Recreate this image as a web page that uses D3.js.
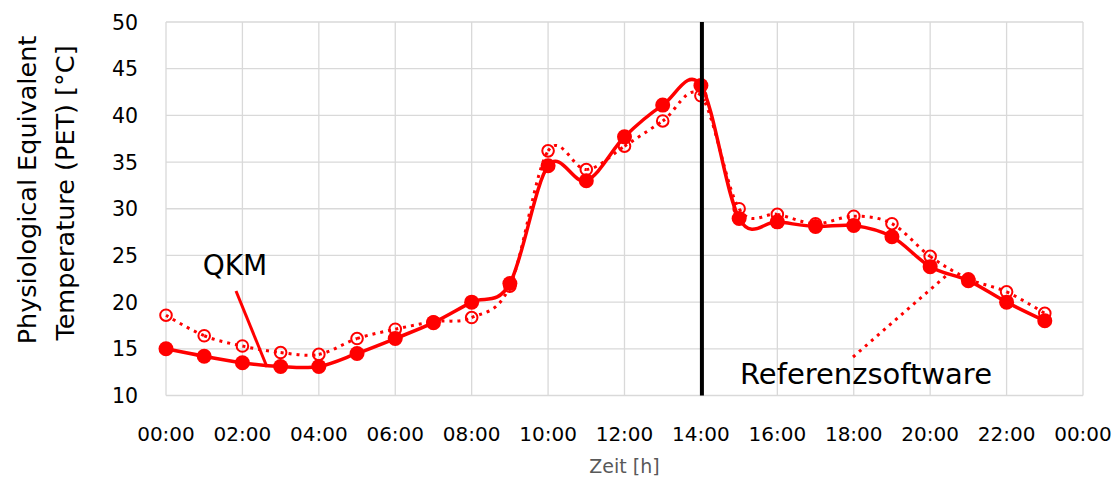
<!DOCTYPE html>
<html>
<head>
<meta charset="utf-8">
<script src="https://cdn.jsdelivr.net/npm/d3@7"></script>
<style>
  body { margin: 0; background: #fff; }
  svg { display: block; }
</style>
</head>
<body>
<svg id="chart" width="1117" height="483"></svg>
<script>
// Hour of day for each measurement
const hours = [0, 1, 2, 3, 4, 5, 6, 7, 8, 9, 10, 11, 12, 13, 14, 15, 16, 17, 18, 19, 20, 21, 22, 23];
// PET computed with QKM (solid line)
const qkm = [15.0, 14.2, 13.5, 13.1, 13.1, 14.5, 16.1, 17.8, 20.0, 22.0, 34.6, 33.0, 37.7, 41.1, 43.2,
             28.95, 28.6, 28.1, 28.2, 27.0, 23.8, 22.3, 20.0, 18.0];
// PET computed with the reference software (dotted line)
const referenz = [18.6, 16.4, 15.3, 14.6, 14.4, 16.1, 17.1, 17.9, 18.35, 21.7, 36.2, 34.2, 36.7, 39.4, 42.1,
                  30.0, 29.4, 28.4, 29.2, 28.4, 24.9, 22.5, 21.1, 18.8];
const yTicks = [10, 15, 20, 25, 30, 35, 40, 45, 50];
const xTickHours = [0, 2, 4, 6, 8, 10, 12, 14, 16, 18, 20, 22, 24];
const xTickLabels = ["00:00", "02:00", "04:00", "06:00", "08:00", "10:00", "12:00",
                     "14:00", "16:00", "18:00", "20:00", "22:00", "00:00"];
const markerHour = 14;

const svg = d3.select("#chart");
const font = "'DejaVu Sans', sans-serif";
const red = "#ff0000";
const grid = "#d9d9d9";

const x = d3.scaleLinear().domain([0, 24]).range([166, 1083]);
const y = d3.scaleLinear().domain([10, 50]).range([395.5, 22]);

// Gridlines
const g = svg.append("g");
g.selectAll("line.h").data(yTicks).join("line")
  .attr("x1", x(0)).attr("x2", x(24))
  .attr("y1", d => y(d)).attr("y2", d => y(d))
  .attr("stroke", grid).attr("stroke-width", 1.3);
g.selectAll("line.v").data(xTickHours).join("line")
  .attr("y1", y(10)).attr("y2", y(50))
  .attr("x1", d => x(d)).attr("x2", d => x(d))
  .attr("stroke", grid).attr("stroke-width", 1.3);

// Tick labels
svg.append("g").selectAll("text").data(yTicks).join("text")
  .attr("x", 138).attr("y", d => y(d) + 7.5)
  .attr("text-anchor", "end")
  .attr("font-family", font).attr("font-size", 20.5).attr("fill", "#000")
  .text(d => d);
svg.append("g").selectAll("text").data(xTickHours).join("text")
  .attr("x", d => x(d)).attr("y", 441)
  .attr("text-anchor", "middle")
  .attr("font-family", font).attr("font-size", 20).attr("fill", "#000")
  .text((d, i) => xTickLabels[i]);

// Axis titles
svg.append("text")
  .attr("transform", "translate(36,190) rotate(-90)")
  .attr("text-anchor", "middle")
  .attr("font-family", font).attr("font-size", 25.5).attr("fill", "#000")
  .text("Physiological Equivalent");
svg.append("text")
  .attr("transform", "translate(74,193) rotate(-90)")
  .attr("text-anchor", "middle")
  .attr("font-family", font).attr("font-size", 25.5).attr("fill", "#000")
  .text("Temperature (PET) [°C]");
svg.append("text")
  .attr("x", (x(0) + x(24)) / 2).attr("y", 473)
  .attr("text-anchor", "middle")
  .attr("font-family", font).attr("font-size", 19).attr("fill", "#595959")
  .text("Zeit [h]");

// Cardinal (tension 0) Bezier pieces, one per interval, so the dash pattern restarts at each point
function cardinalPieces(xs, ys) {
  const pts = xs.map((h, i) => [x(h), y(ys[i])]);
  const n = pts.length, k = 1 / 6, out = [];
  for (let i = 0; i < n - 1; i++) {
    const p0 = i === 0 ? pts[1] : pts[i - 1];
    const p1 = pts[i], p2 = pts[i + 1];
    const p3 = i + 2 < n ? pts[i + 2] : pts[n - 2];
    const c1 = i === 0 ? p1 : [p1[0] + k * (p2[0] - p0[0]), p1[1] + k * (p2[1] - p0[1])];
    const c2 = i + 2 < n ? [p2[0] - k * (p3[0] - p1[0]), p2[1] - k * (p3[1] - p1[1])] : p2;
    out.push(`M${p1[0]},${p1[1]}C${c1[0]},${c1[1]} ${c2[0]},${c2[1]} ${p2[0]},${p2[1]}`);
  }
  return out;
}

// Reference software series: dotted smooth line with open circle markers
const ref = svg.append("g");
ref.selectAll("path").data(cardinalPieces(hours, referenz)).join("path")
  .attr("d", d => d)
  .attr("fill", "none").attr("stroke", red)
  .attr("stroke-width", 3).attr("stroke-dasharray", "3,5");
ref.selectAll("circle").data(hours).join("circle")
  .attr("cx", d => x(d)).attr("cy", (d, i) => y(referenz[i]))
  .attr("r", 5.8)
  .attr("fill", "none").attr("stroke", red).attr("stroke-width", 2);

// QKM series: solid smooth line with filled markers
const lineGen = d3.line()
  .x(d => x(d[0])).y(d => y(d[1]))
  .curve(d3.curveCardinal.tension(0));
const q = svg.append("g");
q.append("path")
  .attr("d", lineGen(hours.map((h, i) => [h, qkm[i]])))
  .attr("fill", "none").attr("stroke", red).attr("stroke-width", 3.5);
q.selectAll("circle").data(hours).join("circle")
  .attr("cx", d => x(d)).attr("cy", (d, i) => y(qkm[i]))
  .attr("r", 7.5).attr("fill", red);

// Vertical marker at 14:00
svg.append("line")
  .attr("x1", x(markerHour) + 1).attr("x2", x(markerHour) + 1)
  .attr("y1", y(50)).attr("y2", y(10))
  .attr("stroke", "#000").attr("stroke-width", 4);

// Annotations
svg.append("line")
  .attr("x1", 236).attr("y1", 291).attr("x2", 267).attr("y2", 367)
  .attr("stroke", red).attr("stroke-width", 3);
svg.append("text")
  .attr("x", 235).attr("y", 275)
  .attr("text-anchor", "middle")
  .attr("font-family", font).attr("font-size", 28).attr("fill", "#000")
  .text("QKM");
svg.append("line")
  .attr("x1", 853).attr("y1", 357).attr("x2", 947).attr("y2", 275)
  .attr("stroke", red).attr("stroke-width", 3).attr("stroke-dasharray", "3,5");
svg.append("text")
  .attr("x", 866).attr("y", 384)
  .attr("text-anchor", "middle")
  .attr("font-family", font).attr("font-size", 29).attr("fill", "#000")
  .text("Referenzsoftware");
</script>
</body>
</html>
